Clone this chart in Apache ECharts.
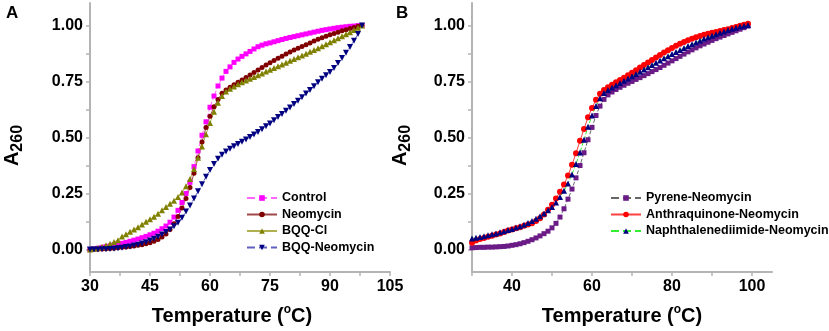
<!DOCTYPE html>
<html>
<head>
<meta charset="utf-8">
<script src="https://cdn.jsdelivr.net/npm/echarts@6/dist/echarts.min.js"></script>
<style>html,body{margin:0;padding:0;background:#fff}#c{width:829px;height:331px}</style>
</head>
<body>
<div id="c"></div>
<script>
// ---------- Data ----------
const tempsA = [30,31,32,33,34,35,36,37,38,39,40,41,42,43,44,45,46,47,48,49,50,51,52,53,54,55,56,57,58,59,60,61,62,63,64,65,66,67,68,69,70,71,72,73,74,75,76,77,78,79,80,81,82,83,84,85,86,87,88,89,90,91,92,93,94,95,96,97,98];
const control = [0.000,0.003,0.006,0.010,0.013,0.016,0.020,0.024,0.028,0.032,0.037,0.042,0.047,0.053,0.059,0.066,0.073,0.082,0.093,0.105,0.122,0.145,0.175,0.210,0.250,0.300,0.370,0.440,0.510,0.570,0.635,0.685,0.730,0.765,0.795,0.815,0.835,0.850,0.862,0.873,0.884,0.895,0.905,0.912,0.918,0.922,0.927,0.932,0.937,0.942,0.946,0.950,0.954,0.958,0.962,0.966,0.970,0.974,0.978,0.981,0.984,0.987,0.990,0.992,0.994,0.996,0.997,0.999,1.000];
const neomycin = [0.000,0.001,0.002,0.003,0.004,0.005,0.006,0.008,0.010,0.012,0.014,0.016,0.019,0.022,0.026,0.031,0.037,0.045,0.056,0.070,0.090,0.115,0.148,0.185,0.228,0.277,0.340,0.410,0.480,0.545,0.595,0.637,0.670,0.697,0.712,0.724,0.735,0.746,0.757,0.768,0.779,0.790,0.801,0.812,0.823,0.834,0.844,0.854,0.863,0.872,0.881,0.890,0.898,0.906,0.914,0.922,0.930,0.938,0.945,0.952,0.958,0.964,0.970,0.976,0.981,0.986,0.991,0.996,1.000];
const bqqCl = [0.000,0.004,0.008,0.013,0.019,0.026,0.034,0.042,0.058,0.068,0.080,0.090,0.100,0.112,0.124,0.135,0.147,0.160,0.175,0.190,0.204,0.218,0.235,0.255,0.282,0.315,0.360,0.410,0.460,0.515,0.565,0.615,0.655,0.685,0.705,0.718,0.728,0.737,0.746,0.754,0.762,0.770,0.778,0.786,0.794,0.802,0.810,0.818,0.826,0.834,0.842,0.850,0.858,0.866,0.874,0.882,0.890,0.898,0.907,0.916,0.925,0.934,0.943,0.952,0.961,0.970,0.980,0.990,1.000];
const bqqNeomycin = [0.000,0.000,0.000,0.001,0.002,0.003,0.004,0.006,0.008,0.011,0.014,0.018,0.022,0.027,0.033,0.040,0.048,0.057,0.067,0.078,0.090,0.104,0.120,0.142,0.170,0.197,0.228,0.260,0.292,0.325,0.355,0.382,0.405,0.423,0.438,0.450,0.461,0.471,0.481,0.491,0.502,0.513,0.525,0.537,0.550,0.563,0.577,0.591,0.605,0.619,0.634,0.649,0.664,0.680,0.696,0.712,0.729,0.746,0.762,0.778,0.792,0.810,0.832,0.855,0.878,0.904,0.932,0.962,1.000];

const tempsB = [30,31,32,33,34,35,36,37,38,39,40,41,42,43,44,45,46,47,48,49,50,51,52,53,54,55,56,57,58,59,60,61,62,63,64,65,66,67,68,69,70,71,72,73,74,75,76,77,78,79,80,81,82,83,84,85,86,87,88,89,90,91,92,93,94,95,96,97,98,99];
const pyrene = [0.008,0.009,0.010,0.010,0.011,0.011,0.012,0.013,0.014,0.016,0.019,0.022,0.026,0.031,0.037,0.044,0.052,0.061,0.071,0.082,0.097,0.117,0.145,0.182,0.225,0.270,0.320,0.375,0.432,0.490,0.545,0.598,0.640,0.670,0.690,0.703,0.714,0.724,0.733,0.742,0.750,0.759,0.767,0.776,0.785,0.794,0.803,0.812,0.822,0.832,0.842,0.852,0.862,0.872,0.882,0.891,0.900,0.909,0.917,0.925,0.933,0.941,0.948,0.955,0.962,0.969,0.976,0.983,0.990,0.997];
const anthraquinone = [0.030,0.040,0.047,0.052,0.057,0.062,0.067,0.072,0.078,0.085,0.090,0.095,0.100,0.106,0.112,0.118,0.127,0.140,0.157,0.178,0.200,0.228,0.258,0.290,0.330,0.378,0.430,0.485,0.538,0.590,0.632,0.668,0.695,0.712,0.724,0.735,0.746,0.756,0.767,0.778,0.789,0.800,0.812,0.823,0.835,0.846,0.857,0.868,0.879,0.889,0.899,0.909,0.918,0.926,0.934,0.941,0.947,0.953,0.958,0.963,0.967,0.971,0.975,0.979,0.983,0.988,0.993,0.998,1.003,1.007];
const naphthalenediimide = [0.050,0.053,0.056,0.060,0.064,0.068,0.072,0.077,0.082,0.087,0.092,0.098,0.104,0.111,0.119,0.128,0.138,0.149,0.161,0.175,0.190,0.210,0.235,0.262,0.295,0.335,0.382,0.433,0.490,0.548,0.598,0.640,0.675,0.698,0.712,0.723,0.733,0.743,0.753,0.763,0.773,0.783,0.793,0.803,0.813,0.823,0.833,0.843,0.853,0.863,0.872,0.881,0.890,0.899,0.908,0.916,0.924,0.932,0.940,0.947,0.954,0.961,0.967,0.973,0.979,0.985,0.990,0.995,0.999,1.002];

const yTickLabels = [0, 0.25, 0.5, 0.75, 1.0];
const yMinorTicks = [0.125, 0.375, 0.625, 0.875];
const xTickLabelsA = [30, 45, 60, 75, 90, 105];
const xMinorTicksA = [37.5, 52.5, 67.5, 82.5, 97.5];
const xTickLabelsB = [40, 60, 80, 100];
const xMinorTicksB = [30, 50, 70, 90];

const namesA = ['Control', 'Neomycin', 'BQQ-Cl', 'BQQ-Neomycin'];
const namesB = ['Pyrene-Neomycin', 'Anthraquinone-Neomycin', 'Naphthalenediimide-Neomycin'];

// ---------- Chart ----------
const FONT = '"Liberation Sans", Arial, sans-serif';
const axisColor = '#b4b4b4';

function pairs(xs, ys) { return xs.map((x, i) => [x, ys[i]]); }

function xAxisDef(idx, labels, minor, max, namePad) {
  return {
    type: 'value', gridIndex: idx, min: 30, max: max,
    name: 'Temperature ({sup|o}C)', nameLocation: 'middle', nameGap: 32,
    nameTextStyle: {
      fontFamily: FONT, fontSize: 20, fontWeight: 'bold', color: '#000', padding: namePad,
      rich: { sup: { fontFamily: FONT, fontSize: 12, fontWeight: 'bold', color: '#000', padding: [0, 0, 12, 0] } }
    },
    axisLine: { onZero: false, lineStyle: { color: axisColor, width: 2 } },
    axisTick: { customValues: labels.concat(minor), length: 4, lineStyle: { color: axisColor, width: 1.5 } },
    axisLabel: { customValues: labels, margin: 7, fontFamily: FONT, fontSize: 16, fontWeight: 'bold', color: '#000' },
    splitLine: { show: false }
  };
}
function yAxisDef(idx, gap) {
  return {
    type: 'value', gridIndex: idx, min: -0.1, max: 1.1,
    name: 'A{sub|260}', nameLocation: 'middle', nameGap: gap, nameRotate: 90,
    nameTextStyle: {
      fontFamily: FONT, fontSize: 20, fontWeight: 'bold', color: '#000', padding: [0, 16, 0, 0],
      rich: { sub: { fontFamily: FONT, fontSize: 16, fontWeight: 'bold', color: '#000', padding: [12, 0, 0, 0] } }
    },
    axisLine: { onZero: false, lineStyle: { color: axisColor, width: 2 } },
    axisTick: { customValues: yTickLabels.concat(yMinorTicks), length: 4, lineStyle: { color: axisColor, width: 1.5 } },
    axisLabel: { customValues: yTickLabels, margin: 7, fontFamily: FONT, fontSize: 16, fontWeight: 'bold', color: '#000',
      formatter: v => v.toFixed(2) },
    splitLine: { show: false }
  };
}
function lineSeries(name, xi, xs, ys, symbol, size, mColor, lColor, lType, rotate) {
  return {
    name: name, type: 'line', xAxisIndex: xi, yAxisIndex: xi,
    data: pairs(xs, ys), symbol: symbol, symbolSize: size, symbolRotate: rotate || 0,
    showAllSymbol: true, animation: false,
    itemStyle: { color: mColor },
    lineStyle: { color: lColor, width: 1, type: lType }
  };
}

const legendText = { fontFamily: FONT, fontSize: 12.5, fontWeight: 'bold', color: '#000', lineHeight: 14 };
const chart = echarts.init(document.getElementById('c'), null, { renderer: 'canvas' });
chart.setOption({
  backgroundColor: '#fff',
  animation: false,
  grid: [
    { left: 90, top: 3, width: 300, height: 270 },
    { left: 472, top: 3, width: 300, height: 270 }
  ],
  xAxis: [xAxisDef(0, xTickLabelsA, xMinorTicksA, 105, [0, 16, 0, 0]), xAxisDef(1, xTickLabelsB, xMinorTicksB, 105, 0)],
  yAxis: [yAxisDef(0, 64), yAxisDef(1, 58)],
  legend: [
    { data: namesA, left: 241, top: 186, orient: 'vertical', itemWidth: 30, itemHeight: 7, itemGap: 2.5, textStyle: legendText },
    { data: namesB, left: 605, top: 186, orient: 'vertical', itemWidth: 30, itemHeight: 7, itemGap: 2.5, textStyle: legendText }
  ],
  graphic: [
    { type: 'text', left: 6, top: 5, style: { text: 'A', font: 'bold 17px ' + FONT, fill: '#000' } },
    { type: 'text', left: 396, top: 5, style: { text: 'B', font: 'bold 17px ' + FONT, fill: '#000' } }
  ],
  series: [
    lineSeries(namesA[0], 0, tempsA, control, 'rect', 5, '#ff00ff', '#ff66ff', 'dashed'),
    lineSeries(namesA[1], 0, tempsA, neomycin, 'circle', 5, '#800000', '#a04848', 'solid'),
    lineSeries(namesA[2], 0, tempsA, bqqCl, 'triangle', 6, '#808000', '#b0b050', 'solid'),
    lineSeries(namesA[3], 0, tempsA, bqqNeomycin, 'triangle', 6, '#000080', '#6060c0', 'dashed', 180),
    lineSeries(namesB[0], 1, tempsB, pyrene, 'rect', 5, '#6a1b86', '#666666', 'dashed'),
    lineSeries(namesB[1], 1, tempsB, anthraquinone, 'circle', 6, '#ff0000', '#ff4040', 'solid'),
    lineSeries(namesB[2], 1, tempsB, naphthalenediimide, 'triangle', 6, '#000080', '#33ee33', 'dashed')
  ]
});
</script>
</body>
</html>
